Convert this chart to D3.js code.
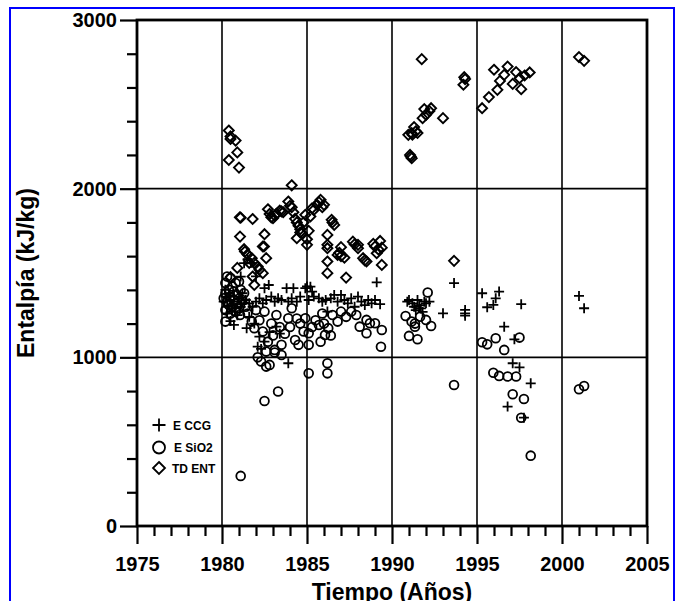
<!DOCTYPE html>
<html>
<head>
<meta charset="utf-8">
<script src="https://cdn.jsdelivr.net/npm/d3@7"></script>
<style>
  body { margin: 0; background: #fff; }
  text { font-family: "Liberation Sans", Arial, sans-serif; font-weight: bold; fill: #000; }
</style>
</head>
<body>
<div id="chart"></div>
<script>
// [year, enthalpy kJ/kg]
var eccg = [
  [1980.1,1330],[1980.2,1360],[1980.3,1300],[1980.4,1380],[1980.5,1340],[1980.6,1310],[1980.7,1360],
  [1980.8,1290],[1980.9,1330],[1981.0,1350],[1980.5,1215],[1980.7,1192],[1980.3,1260],[1981.1,1300],
  [1981.2,1380],[1980.2,1400],[1980.6,1270],[1980.9,1250],[1981.3,1320],
  [1981.3,1558],[1981.5,1580],[1981.1,1479],[1981.7,1560],[1982.0,1480],
  [1981.4,1340],[1981.6,1320],[1981.8,1300],[1982.0,1330],[1982.2,1350],[1982.4,1320],[1982.5,1410],
  [1982.75,1429],[1982.6,1340],[1982.9,1360],[1983.1,1330],[1983.3,1350],[1983.5,1340],[1983.8,1410],
  [1983.9,1330],[1984.1,1350],[1984.2,1410],[1984.4,1330],[1984.6,1360],[1984.9,1410],[1985.0,1420],
  [1985.2,1419],[1985.3,1390],[1985.1,1340],[1985.4,1360],[1985.7,1350],[1985.9,1330],[1986.1,1340],
  [1986.2,1271],[1986.4,1350],[1986.6,1370],[1986.8,1330],[1987.0,1370],[1987.2,1340],[1987.4,1320],
  [1987.6,1350],[1987.8,1300],[1988.0,1360],[1988.2,1330],[1988.4,1310],[1988.6,1340],[1988.8,1320],
  [1989.0,1340],[1989.3,1315],[1989.1,1445],
  [1981.45,1173],[1982.2,1123],[1982.1,1063],[1982.5,1093],[1983.2,1182],[1981.9,1200],[1982.8,1150],
  [1983.4,1140],[1981.6,1240],[1983.9,965],[1982.3,1050],
  [1990.9,1330],[1991.0,1340],[1991.2,1320],[1991.3,1300],[1991.5,1340],[1991.6,1310],[1991.7,1290],
  [1991.9,1330],[1992.0,1320],[1992.2,1330],[1991.4,1280],[1991.8,1270],
  [1993.0,1261],[1993.65,1440],[1994.3,1281],[1994.3,1261],[1994.3,1247],
  [1995.3,1380],[1996.3,1390],[1996.1,1350],[1995.96,1311],[1995.6,1297],[1997.6,1315],[1996.6,1182],
  [1997.2,1107],[1997.1,965],[1997.5,941],[1998.16,846],[1996.8,708],[1997.76,642],
  [2001.0,1364],[2001.3,1291]
];

var esio2 = [
  [1980.3,1479],[1980.5,1470],[1980.2,1440],[1980.6,1420],[1980.4,1400],[1980.8,1440],[1980.2,1380],
  [1980.5,1360],[1980.7,1390],[1980.9,1370],[1981.1,1400],[1981.3,1380],[1980.3,1330],[1980.6,1300],
  [1980.9,1320],[1981.2,1340],[1980.2,1280],[1980.5,1260],[1980.2,1212],[1981.06,1251],[1981.0,1290],
  [1980.4,1310],[1980.7,1340],[1981.0,1450],[1980.1,1350],[1980.8,1270],
  [1981.4,1300],[1981.5,1260],[1981.75,1212],[1981.9,1173],[1982.4,1153],[1982.7,1093],[1982.6,1034],
  [1983.5,1074],[1983.1,1044],[1983.5,1014],[1984.3,1103],[1984.5,1074],[1984.8,1153],[1985.1,1074],
  [1983.9,1232],[1984.1,1291],[1982.5,1271],[1983.2,1251],[1982.0,1280],[1982.2,1220],[1982.9,1200],
  [1983.0,1130],[1983.4,1180],[1983.7,1140],[1984.0,1180],[1984.4,1230],[1984.6,1200],[1984.9,1232],
  [1985.1,1143],[1985.7,1192],[1985.8,1093],[1986.06,1133],[1986.25,1173],[1986.5,1251],[1986.8,1212],
  [1987.0,1271],[1987.6,1271],[1987.9,1251],[1988.1,1182],[1988.5,1143],[1988.7,1202],[1989.0,1202],
  [1989.4,1162],[1989.35,1063],[1988.5,1222],[1985.5,1220],[1985.3,1180],[1986.0,1200],[1986.4,1130],
  [1987.3,1240],[1985.9,1260],
  [1982.1,1000],[1982.3,975],[1982.6,945],[1982.8,955],[1983.1,1028],[1983.3,797],[1982.5,741],
  [1981.1,297],[1985.1,905],[1986.2,965],[1986.2,905],
  [1992.1,1384],[1990.8,1245],[1991.15,1212],[1991.35,1182],[1991.35,1200],[1991.0,1127],[1991.5,1107],
  [1992.0,1222],[1992.3,1186],[1991.65,1241],[1993.65,836],
  [1995.3,1089],[1995.6,1077],[1996.1,1113],[1996.6,1044],[1997.5,1117],[1995.96,909],[1996.3,890],
  [1996.8,886],[1997.3,886],[1997.1,781],[1997.76,753],[1997.6,642],[1998.16,417],
  [2001.0,811],[2001.3,830]
];

var tdent = [
  [1980.4,2345],[1980.5,2310],[1980.5,2295],[1980.8,2285],[1980.9,2215],[1980.4,2170],[1981.0,2125],
  [1984.1,2020],
  [1981.05,1830],[1981.1,1828],[1981.8,1820],[1982.7,1878],[1982.8,1850],[1982.9,1830],[1983.0,1825],
  [1983.1,1840],[1983.2,1850],[1983.4,1870],[1983.5,1865],[1983.6,1860],[1983.9,1924],[1984.0,1898],
  [1984.1,1890],[1984.2,1860],[1984.3,1821],[1984.4,1800],[1984.5,1780],[1984.6,1760],[1984.4,1706],
  [1984.6,1740],[1984.7,1736],[1984.8,1800],[1984.9,1845],[1985.0,1667],[1985.0,1700],[1985.1,1750],
  [1985.2,1835],[1985.3,1884],[1985.4,1874],[1985.6,1904],[1985.7,1920],[1985.8,1934],[1986.0,1904],
  [1985.9,1890],[1986.45,1815],[1986.6,1785],[1986.5,1800],[1986.2,1726],[1986.2,1667],[1986.2,1568],
  [1986.2,1647],[1986.2,1499],[1986.8,1607],[1986.9,1620],[1987.0,1653],[1987.2,1591],[1987.0,1600],
  [1987.3,1473],[1987.7,1686],[1987.8,1670],[1988.0,1667],[1988.0,1647],[1988.3,1588],[1988.4,1575],
  [1988.5,1568],[1988.9,1673],[1989.0,1657],[1989.1,1617],[1989.2,1640],[1989.3,1690],[1989.4,1548],
  [1989.4,1650],
  [1981.06,1716],[1982.5,1730],[1982.47,1657],[1981.3,1641],[1981.35,1627],[1982.4,1657],[1981.75,1588],
  [1982.1,1538],[1982.4,1499],[1981.8,1479],[1981.9,1429],[1981.6,1560],[1982.6,1588],[1981.5,1610],
  [1981.9,1560],[1982.2,1520],[1980.5,1475],[1980.9,1530],
  [1990.96,2319],[1991.16,2329],[1991.06,2200],[1991.16,2181],[1991.1,2190],[1991.75,2768],[1994.25,2661],
  [1994.2,2616],[1994.3,2650],[1991.9,2472],[1992.3,2477],[1992.0,2438],[1991.8,2418],[1993.0,2418],
  [1991.3,2365],[1991.4,2340],[1991.5,2330],[1991.2,2320],[1992.2,2460],[1993.65,1572],
  [1995.3,2477],[1995.7,2543],[1996.2,2586],[1996.35,2639],[1996.6,2675],[1996.0,2705],[1996.8,2724],
  [1997.3,2691],[1997.1,2621],[1997.5,2655],[1997.6,2590],[1997.8,2671],[1998.1,2689],
  [2001.0,2780],[2001.3,2758]
];

var xTicks = d3.range(1975, 2006, 5);
var yTicks = [0, 1000, 2000, 3000];

var width = 680, height = 601;
var plotLeft = 137, plotRight = 647, plotTop = 20, plotBottom = 526;

var svg = d3.select("#chart").append("svg")
    .attr("width", width)
    .attr("height", height);

// blue frame around the figure
svg.append("rect")
    .attr("x", 10).attr("y", 8)
    .attr("width", 664).attr("height", 620)
    .attr("fill", "none")
    .attr("stroke", "#0000ff")
    .attr("stroke-width", 2);

var x = d3.scaleLinear().domain([1975, 2005]).range([plotLeft, plotRight]);
var y = d3.scaleLinear().domain([0, 3000]).range([plotBottom, plotTop]);

// grid
svg.append("g").selectAll("line")
    .data(xTicks.slice(1, -1))
    .enter().append("line")
    .attr("x1", function (d) { return x(d); })
    .attr("x2", function (d) { return x(d); })
    .attr("y1", plotTop).attr("y2", plotBottom)
    .attr("stroke", "#000").attr("stroke-width", 1.6);
svg.append("g").selectAll("line")
    .data(yTicks.slice(1, -1))
    .enter().append("line")
    .attr("x1", plotLeft).attr("x2", plotRight)
    .attr("y1", function (d) { return y(d); })
    .attr("y2", function (d) { return y(d); })
    .attr("stroke", "#000").attr("stroke-width", 1.6);

// x axis: minor ticks each year, longer on multiples of 5
var xAxis = svg.append("g")
    .attr("transform", "translate(0," + plotBottom + ")")
    .call(d3.axisBottom(x).tickValues(d3.range(1975, 2006, 1)).tickSize(10).tickFormat(""));
xAxis.select(".domain").remove();
xAxis.selectAll(".tick line")
    .attr("stroke-width", 2.2)
    .attr("y2", function (d) { return d % 5 === 0 ? 18 : 10; });
var xLab = svg.append("g")
    .attr("transform", "translate(0," + plotBottom + ")")
    .call(d3.axisBottom(x).tickValues(xTicks).tickSize(0).tickPadding(31).tickFormat(d3.format("d")));
xLab.select(".domain").remove();
xLab.selectAll("text").attr("font-size", 20).attr("font-family", null);

// y axis
var yAxis = svg.append("g")
    .attr("transform", "translate(" + plotLeft + ",0)")
    .call(d3.axisLeft(y).tickValues(d3.range(0, 3001, 200)).tickSize(10).tickFormat(""));
yAxis.select(".domain").remove();
yAxis.selectAll(".tick line")
    .attr("stroke-width", 2.2)
    .attr("x2", function (d) { return d % 1000 === 0 ? -17 : -10; });
var yLab = svg.append("g")
    .attr("transform", "translate(" + plotLeft + ",0)")
    .call(d3.axisLeft(y).tickValues(yTicks).tickSize(0).tickPadding(20).tickFormat(d3.format("d")));
yLab.select(".domain").remove();
yLab.selectAll("text").attr("font-size", 20).attr("font-family", null);

// plot frame
svg.append("rect")
    .attr("x", plotLeft).attr("y", plotTop)
    .attr("width", plotRight - plotLeft).attr("height", plotBottom - plotTop)
    .attr("fill", "none").attr("stroke", "#000").attr("stroke-width", 2.8);

// markers
function plusPath(px, py, s) {
    return "M" + (px - s) + "," + py + "h" + (2 * s) + "M" + px + "," + (py - s) + "v" + (2 * s);
}
function diamondPath(px, py, s) {
    return "M" + px + "," + (py - s) + "L" + (px + s) + "," + py + "L" + px + "," + (py + s) + "L" + (px - s) + "," + py + "Z";
}

var marks = svg.append("g");
marks.selectAll(".ent")
    .data(tdent)
    .enter().append("path")
    .attr("class", "ent")
    .attr("d", function (d) { return diamondPath(x(d[0]), y(d[1]), 5); })
    .attr("fill", "none").attr("stroke", "#000").attr("stroke-width", 1.9);
marks.selectAll(".sio2")
    .data(esio2)
    .enter().append("circle")
    .attr("class", "sio2")
    .attr("cx", function (d) { return x(d[0]); })
    .attr("cy", function (d) { return y(d[1]); })
    .attr("r", 4.4)
    .attr("fill", "none").attr("stroke", "#000").attr("stroke-width", 1.8);
marks.selectAll(".ccg")
    .data(eccg)
    .enter().append("path")
    .attr("class", "ccg")
    .attr("d", function (d) { return plusPath(x(d[0]), y(d[1]), 5); })
    .attr("fill", "none").attr("stroke", "#000").attr("stroke-width", 1.8);

// legend
var legend = svg.append("g");
legend.append("path").attr("d", plusPath(159, 425, 6.5))
    .attr("stroke", "#000").attr("stroke-width", 1.8).attr("fill", "none");
legend.append("circle").attr("cx", 159).attr("cy", 447.5).attr("r", 6)
    .attr("stroke", "#000").attr("stroke-width", 1.8).attr("fill", "none");
legend.append("path").attr("d", diamondPath(159, 468, 6))
    .attr("stroke", "#000").attr("stroke-width", 1.8).attr("fill", "none");
legend.selectAll("text")
    .data([["E CCG", 173, 429.5], ["E SiO2", 174, 452], ["TD ENT", 172, 473]])
    .enter().append("text")
    .attr("x", function (d) { return d[1]; })
    .attr("y", function (d) { return d[2]; })
    .attr("font-size", 12)
    .text(function (d) { return d[0]; });

// axis titles
svg.append("text")
    .attr("x", (plotLeft + plotRight) / 2).attr("y", 600)
    .attr("text-anchor", "middle")
    .attr("font-size", 23)
    .text("Tiempo (Años)");
svg.append("text")
    .attr("transform", "translate(34," + 273 + ") rotate(-90)")
    .attr("text-anchor", "middle")
    .attr("font-size", 23)
    .text("Entalpía (kJ/kg)");
</script>
</body>
</html>
